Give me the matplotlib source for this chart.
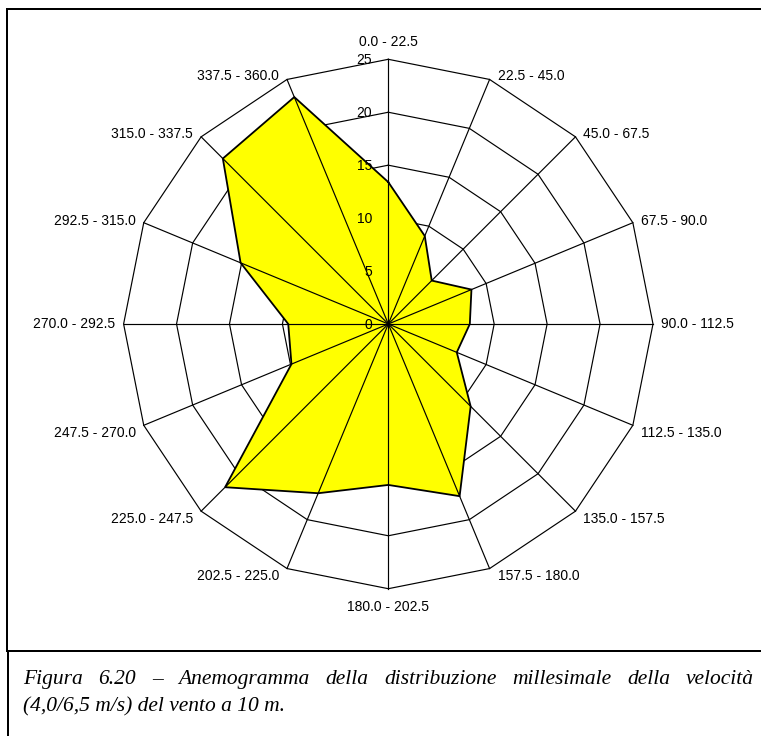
import numpy as np
import matplotlib
matplotlib.use("Agg")
import matplotlib.pyplot as plt
from matplotlib.lines import Line2D

# Wind-direction sectors (degrees, clockwise from north) and per-mille frequencies
sectors = ["0.0 - 22.5", "22.5 - 45.0", "45.0 - 67.5", "67.5 - 90.0",
           "90.0 - 112.5", "112.5 - 135.0", "135.0 - 157.5", "157.5 - 180.0",
           "180.0 - 202.5", "202.5 - 225.0", "225.0 - 247.5", "247.5 - 270.0",
           "270.0 - 292.5", "292.5 - 315.0", "315.0 - 337.5", "337.5 - 360.0"]
frequency = [13.4, 9.0, 5.8, 8.5, 7.7, 7.0, 11.0, 17.6,
             15.2, 17.3, 21.8, 9.9, 9.45, 15.1, 22.1, 23.2]
radial_ticks = [0, 5, 10, 15, 20, 25]

caption_line1 = ["Figura", "6.20", "\u2013", "Anemogramma", "della", "distribuzione",
                 "millesimale", "della", "velocità"]
caption_line2 = "(4,0/6,5 m/s) del vento a 10 m."

W, H, DPI = 761, 736, 100
fig = plt.figure(figsize=(W / DPI, H / DPI), dpi=DPI)

# Radar drawn in a cartesian axes; centre and scale set in pixels
cx, cy = 388.3, 324.0          # centre (pixels from top-left)
rmax = max(radial_ticks)
px_per_unit = 264.7 / rmax

ax = fig.add_axes([0, 0, 1, 1])
ax.set_xlim(-cx / px_per_unit, (W - cx) / px_per_unit)
ax.set_ylim(-(H - cy) / px_per_unit, cy / px_per_unit)
ax.axis("off")

n = len(sectors)
theta = np.deg2rad(np.arange(n) * 360.0 / n)
sx, sy = np.sin(theta), np.cos(theta)

# concentric polygon rings
for r in radial_ticks[1:]:
    ax.plot(np.append(r * sx, r * sx[0]), np.append(r * sy, r * sy[0]),
            color="black", lw=0.85, zorder=1)

# filled data polygon
vals = np.array(frequency)
ax.fill(vals * sx, vals * sy, facecolor="#FFFF00", edgecolor="none", zorder=2)

# spokes on top of the fill
for i in range(n):
    ax.plot([0, rmax * sx[i]], [0, rmax * sy[i]], color="black", lw=0.85, zorder=3)

# data outline
ax.plot(np.append(vals * sx, vals[0] * sx[0]), np.append(vals * sy, vals[0] * sy[0]),
        color="black", lw=1.3, zorder=4, solid_joinstyle="miter")

# radial tick labels, left of the north spoke
for r in radial_ticks:
    ax.annotate(str(r), xy=(0, r), xytext=(-16, -1), textcoords="offset pixels",
                ha="right", va="center", fontsize=10, family="Liberation Sans",
                zorder=5)

# sector labels
for i, lab in enumerate(sectors):
    s, c = sx[i], sy[i]
    if abs(s) < 0.1:
        ha = "center"
        dx = 0
        dy = 17.5 if c > 0 else -18
    else:
        ha = "left" if s > 0 else "right"
        dx = 8 if s > 0 else -8
        dy = 4 * c if c > -0.1 else -7.5
    ax.annotate(lab, xy=(rmax * s, rmax * c), xytext=(dx, dy),
                textcoords="offset pixels", ha=ha, va="center",
                fontsize=10, family="Liberation Sans", zorder=5)

# frame and caption in pixel coordinates
ov = fig.add_axes([0, 0, 1, 1], zorder=10)
ov.set_xlim(0, W)
ov.set_ylim(H, 0)
ov.axis("off")
ov.patch.set_alpha(0)
lw_frame = 2.0 * 72 / DPI
ov.add_line(Line2D([7, W + 5], [9, 9], color="black", lw=lw_frame))
ov.add_line(Line2D([7, 7], [9, 651], color="black", lw=lw_frame))
ov.add_line(Line2D([7, W + 5], [651, 651], color="black", lw=lw_frame))
ov.add_line(Line2D([8, 8], [651, H + 5], color="black", lw=lw_frame))

cap_font = dict(family="Liberation Serif", style="italic", fontsize=15.5)
renderer = fig.canvas.get_renderer()
x_left, x_right, y1, y2 = 23, 754, 684, 711
words = [ov.text(0, y1, w, ha="left", va="baseline", **cap_font) for w in caption_line1]
widths = [t.get_window_extent(renderer).width for t in words]
gap = (x_right - x_left - sum(widths)) / (len(words) - 1)
x = x_left
for t, w in zip(words, widths):
    t.set_x(x)
    x += w + gap
ov.text(x_left, y2, caption_line2, ha="left", va="baseline", **cap_font)

fig.savefig("out.png", dpi=DPI, facecolor="white")
